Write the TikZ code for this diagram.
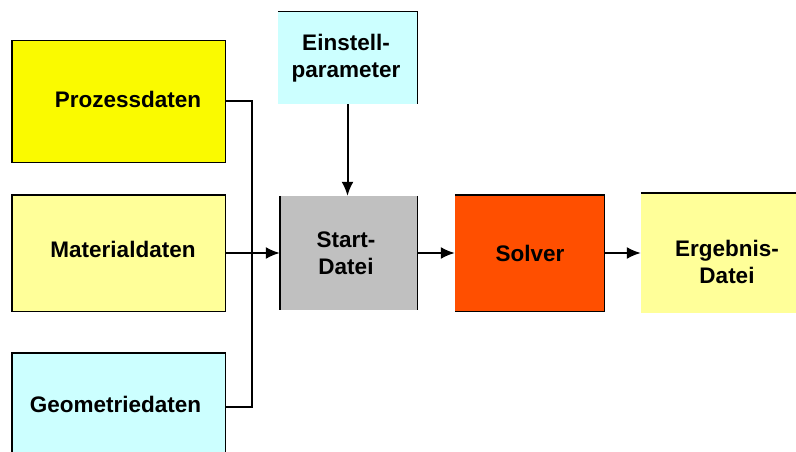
\documentclass[tikz,border=0pt]{standalone}
\usepackage{fontspec}
\setmainfont{Liberation Sans}
\usetikzlibrary{arrows.meta}
\definecolor{cYellow}{HTML}{FAFA00}
\definecolor{cPale}{HTML}{FFFF99}
\definecolor{cCyan}{HTML}{CCFFFF}
\definecolor{cGray}{HTML}{C0C0C0}
\definecolor{cOrange}{HTML}{FF4F00}
\tikzset{
  blk/.style={rectangle, inner sep=0pt, draw=none},
  edge/.style={line width=1.4pt, black},
  lbl/.style={font=\bfseries\fontsize{22.5}{27}\selectfont, align=center, inner sep=0pt},
  conn/.style={line width=2pt, black},
  flow/.style={conn, -{Latex[length=14pt,width=12pt]}}
}
\begin{document}
\begin{tikzpicture}[x=1pt,y=-1pt]
\clip (0,0) rectangle (796,452);
\fill[white] (0,0) rectangle (796,452);

% input blocks on the left
\node[blk, fill=cYellow, minimum width=213pt, minimum height=121pt] (proz) at (118.5,101.5) {};
\node[blk, fill=cPale, minimum width=213pt, minimum height=116pt] (mat) at (118.5,253) {};
\node[blk, fill=cCyan, minimum width=213pt, minimum height=107pt] (geo) at (118.5,406.5) {};
\draw[edge] (proz.north west) rectangle (proz.south east);
\draw[edge] (mat.north west) rectangle (mat.south east);
\draw[edge] (geo.south west) -- (geo.north west) -- (geo.north east) -- (geo.south east);
\node[lbl] (proz-t) at (128,99) {Prozessdaten};
\node[lbl] (mat-t) at (123,249) {Materialdaten};
\node[lbl] (geo-t) at (115.5,404) {Geometriedaten};

% settings block
\node[blk, fill=cCyan, minimum width=139pt, minimum height=92pt] (ein) at (347.5,58) {};
\draw[edge] (ein.north west) -- (ein.north east) -- (ein.south east);
\node[lbl] (ein-t) at (346,58) {Einstell-\\parameter};

% processing chain
\node[blk, fill=cGray, minimum width=137pt, minimum height=114pt] (start) at (348.5,253) {};
\draw[edge] (start.north west) -- (start.south west);
\draw[edge] (start.north east) -- (start.south east);
\node[lbl] (start-t) at (346,253) {Start-\\Datei};

\node[blk, fill=cOrange, minimum width=149pt, minimum height=116pt] (solv) at (529.5,253) {};
\draw[edge] (solv.north west) -- (solv.north east) -- (solv.south east) -- (solv.south west);
\node[lbl] (solv-t) at (530,253) {Solver};

\node[blk, fill=cPale, minimum width=170pt, minimum height=120pt] (erg) at (726,253) {};
\draw[edge] (erg.north west) -- (erg.north east);
\node[lbl] (erg-t) at (727,262) {Ergebnis-\\Datei};

% connectors
\coordinate (bus) at (252,253);
\draw[conn] (proz.east) -| (bus) |- (geo.east);
\draw[flow] (mat.east) -- (start.west);
\draw[flow] (ein.south) -- (ein.south |- start.north);
\draw[flow] (start.east) -- (solv.west);
\draw[flow] (solv.east) -- (erg.west);
\end{tikzpicture}
\end{document}
